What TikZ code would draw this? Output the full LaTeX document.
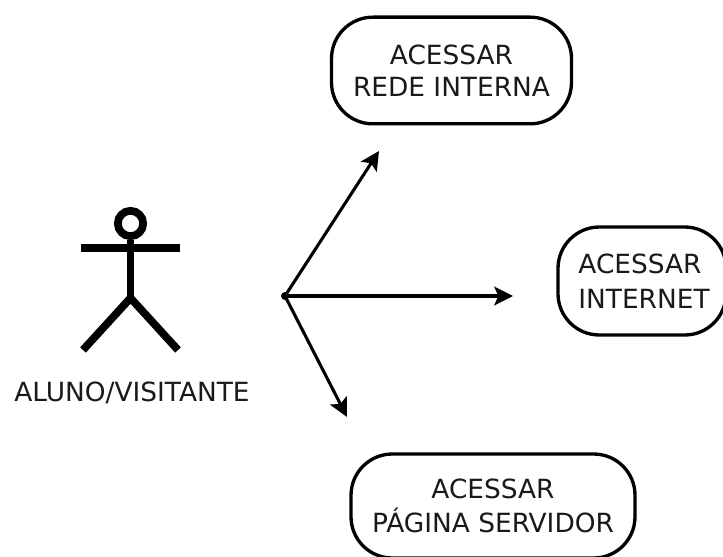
\documentclass[tikz,border=0pt]{standalone}
\usepackage{fontspec}
\setmainfont{DejaVu Sans}
\usetikzlibrary{arrows.meta}
\tikzset{
 usecase/.style={draw=black,line width=2.5pt,rounded corners=31pt,align=center,inner sep=0pt,font=\fontsize{19.8pt}{24pt}\selectfont,text=black!90},
 stick/.style={line width=5.8pt,draw=black},
 flow/.style={line width=2.3pt,draw=black,-{Stealth[length=14pt,width=14pt,inset=3pt]}},
}
\begin{document}
\begin{tikzpicture}[x=0.75pt,y=-0.75pt]
\useasboundingbox (0,0) rectangle (723,556);
\node[usecase,minimum width=180pt,minimum height=80pt] (a) at (451.5,70.5) {ACESSAR\\REDE INTERNA};
\node[usecase,align=left,minimum width=126pt,minimum height=81pt] (b) at (642,281) {\hspace*{3pt}ACESSAR\\[2pt]\hspace*{3pt}INTERNET};
\node[usecase,minimum width=213pt,minimum height=78pt] (c) at (493,506) {ACESSAR\\[1.5pt]PÁGINA SERVIDOR};
\node[draw=black,line width=5.8pt,circle,minimum size=19pt,inner sep=0pt] (h) at (130.5,223.5) {};
\coordinate (hip) at (130.5,298);
\coordinate (la) at (81,248);
\coordinate (ra) at (180,248);
\coordinate (lf) at (83,350);
\coordinate (rf) at (178,350);
\draw[stick] (h.south) -- (hip);
\draw[stick] (la) -- (ra);
\draw[stick] (lf) -- (hip) -- (rf);
\node[font=\fontsize{19.8pt}{24pt}\selectfont,text=black!90,inner sep=0pt] (lbl) at (132,393) {ALUNO/VISITANTE};
\coordinate (o) at (285,296);
\coordinate (ta) at (379,151);
\coordinate (tb) at (513,296);
\coordinate (tc) at (347,417);
\fill (o) circle (3pt);
\draw[flow] (o) -- (ta);
\draw[flow] (o) -- (tb);
\draw[flow] (o) -- (tc);
\end{tikzpicture}
\end{document}
